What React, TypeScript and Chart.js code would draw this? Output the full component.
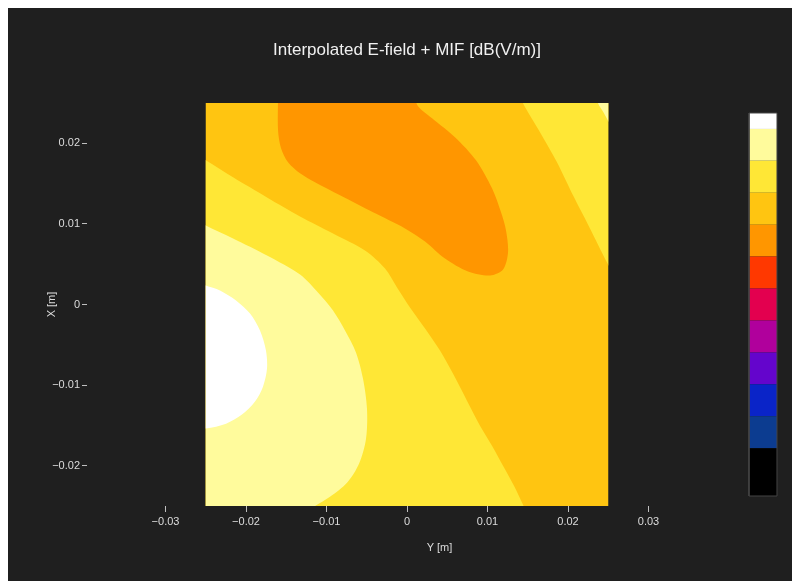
import React, { useEffect, useRef } from 'react';
import { Chart, registerables } from 'chart.js';

// ---------- data ----------
const chartTitle = 'Interpolated E-field + MIF [dB(V/m)]';
const xAxisTitle = 'Y [m]';
const yAxisTitle = 'X [m]';
const xTicks = [-0.03, -0.02, -0.01, 0, 0.01, 0.02, 0.03];
const yTicks = [-0.02, -0.01, 0, 0.01, 0.02];
const domainX = [-0.025, 0.025];
const domainY = [-0.025, 0.025];

// colour bands of the colour bar, bottom to top
const levelColors = [
  '#000000', '#0c3c90', '#0a24c8', '#6405cc', '#b0009c', '#e3004f',
  '#ff3800', '#ff9600', '#ffc511', '#ffe736', '#fffb9c', '#ffffff',
];
const levelEdges = [0, 1.5, 2.5, 3.5, 4.5, 5.5, 6.5, 7.5, 8.5, 9.5, 10.5, 11.5, 12];

// contour zones [x, y] in metres
const goldField = [[-0.027, -0.027], [0.027, -0.027], [0.027, 0.027], [-0.027, 0.027]];
const yellowLowerLeft = [
  [-0.027, 0.019], [-0.025, 0.0179], [-0.02161, 0.01578], [-0.01739, 0.01329], [-0.01329, 0.01093],
  [-0.00919, 0.00882], [-0.00522, 0.00671], [-0.00273, 0.00447], [-0.00124, 0.00211], [0.00037, -0.00037],
  [0.00224, -0.00298], [0.0041, -0.00571], [0.00571, -0.00857], [0.00745, -0.01193], [0.00907, -0.01503],
  [0.01056, -0.01752], [0.01193, -0.02], [0.01329, -0.02248], [0.01453, -0.02509], [0.01528, -0.02658],
  [-0.027, -0.027],
];
const lightYellowLowerLeft = [
  [-0.027, 0.0109], [-0.025, 0.00981], [-0.02161, 0.0082], [-0.01739, 0.00609], [-0.01329, 0.00373],
  [-0.01106, 0.00149], [-0.00919, -0.00075], [-0.0077, -0.00323], [-0.00634, -0.00596], [-0.00547, -0.00919],
  [-0.00497, -0.01292], [-0.00509, -0.01665], [-0.00596, -0.01975], [-0.00745, -0.02211], [-0.00957, -0.02385],
  [-0.01155, -0.02509], [-0.01267, -0.02609], [-0.027, -0.027],
];
const whiteCore = [
  [-0.027, 0.0031], [-0.025, 0.00236], [-0.02323, 0.00174], [-0.02124, 0.0005], [-0.0195, -0.00112],
  [-0.01826, -0.00323], [-0.01752, -0.00571], [-0.01739, -0.00795], [-0.01789, -0.01019], [-0.01888, -0.01205],
  [-0.0205, -0.01366], [-0.02248, -0.01478], [-0.025, -0.0154], [-0.027, -0.0156],
];
const orangeCore = [
  [-0.01602, 0.02596], [-0.01602, 0.02161], [-0.01565, 0.01938], [-0.01478, 0.01764], [-0.01329, 0.01627],
  [-0.01143, 0.01516], [-0.00832, 0.01354], [-0.00422, 0.01143], [-0.00025, 0.00944], [0.00224, 0.00783],
  [0.00472, 0.00571], [0.00758, 0.0041], [0.01031, 0.0036], [0.01193, 0.00435], [0.01255, 0.00646],
  [0.0123, 0.00919], [0.01168, 0.01143], [0.01056, 0.01441], [0.00857, 0.01789], [0.00596, 0.02075],
  [0.00311, 0.02311], [0.00137, 0.0246], [0.00087, 0.02596],
];
const yellowUpperRight = [
  [0.0139, 0.027], [0.01416, 0.02596], [0.01441, 0.02497], [0.01652, 0.02137], [0.01863, 0.01764],
  [0.02062, 0.01354], [0.02273, 0.00944], [0.02484, 0.00522], [0.02584, 0.00348], [0.027, 0.0015],
  [0.027, 0.027],
];
const lightYellowUpperRight = [
  [0.0232, 0.027], [0.02373, 0.02497], [0.02447, 0.02373], [0.02509, 0.02261], [0.02584, 0.02161],
  [0.027, 0.02], [0.027, 0.027],
];

const zones: { pts: number[][]; level: number; smooth: boolean }[] = [
  { pts: goldField, level: 8, smooth: false },
  { pts: yellowLowerLeft, level: 9, smooth: true },
  { pts: lightYellowLowerLeft, level: 10, smooth: true },
  { pts: whiteCore, level: 11, smooth: true },
  { pts: orangeCore, level: 7, smooth: true },
  { pts: yellowUpperRight, level: 9, smooth: true },
  { pts: lightYellowUpperRight, level: 10, smooth: true },
];

// ---------- plugins ----------
const domainClip = {
  id: 'domainClip',
  beforeDatasetDraw(chart: any, args: any) {
    const ds = chart.data.datasets[args.index];
    if (!ds.domainClip) return;
    const xs = chart.scales.x;
    const ys = chart.scales.y;
    const l = xs.getPixelForValue(domainX[0]);
    const r = xs.getPixelForValue(domainX[1]);
    const t = ys.getPixelForValue(domainY[1]);
    const b = ys.getPixelForValue(domainY[0]);
    const ctx = chart.ctx;
    ctx.save();
    ctx.beginPath();
    ctx.rect(l, t, r - l, b - t);
    ctx.clip();
  },
  afterDatasetDraw(chart: any, args: any) {
    const ds = chart.data.datasets[args.index];
    if (ds.domainClip) chart.ctx.restore();
  },
};

Chart.register(domainClip);
Chart.register(...registerables);

const fmt = (v: number) => {
  if (Math.abs(v) < 1e-9) return '0';
  const s = Math.abs(v).toFixed(2);
  return v < 0 ? '\u2212' + s : s;
};

const textColor = '#dcdcdc';
const fontFamily = '"Liberation Sans", Arial, sans-serif';

export default function App() {
  const ref = useRef<HTMLCanvasElement>(null);

  useEffect(() => {
    if (!ref.current) return;
    Chart.defaults.font.family = fontFamily;

    const zoneSets = zones.map((z, i) => ({
      type: 'scatter' as const,
      data: z.pts.map(([x, y]) => ({ x, y })),
      showLine: true,
      fill: 'shape' as any,
      backgroundColor: levelColors[z.level],
      borderColor: 'rgba(0,0,0,0)',
      borderWidth: 0,
      pointRadius: 0,
      pointHoverRadius: 0,
      tension: z.smooth ? 0.3 : 0,
      order: 100 - i,
      xAxisID: 'x',
      yAxisID: 'y',
      domainClip: true,
    }));

    const barSets = levelColors.map((c, i) => {
      const lo = levelEdges[i];
      const hi = levelEdges[i + 1];
      return {
        type: 'scatter' as const,
        data: [{ x: 0, y: lo }, { x: 1, y: lo }, { x: 1, y: hi }, { x: 0, y: hi }],
        showLine: true,
        fill: 'shape' as any,
        backgroundColor: c,
        borderColor: 'rgba(0,0,0,0)',
        borderWidth: 0,
        pointRadius: 0,
        pointHoverRadius: 0,
        tension: 0,
        order: 50,
        xAxisID: 'cbx',
        yAxisID: 'cby',
      };
    });

    const outline = {
      type: 'scatter' as const,
      data: [
        { x: 0, y: levelEdges[0] }, { x: 1, y: levelEdges[0] },
        { x: 1, y: levelEdges[levelEdges.length - 1] }, { x: 0, y: levelEdges[levelEdges.length - 1] },
        { x: 0, y: levelEdges[0] },
      ],
      showLine: true,
      fill: false,
      borderColor: '#444444',
      borderWidth: 1,
      pointRadius: 0,
      pointHoverRadius: 0,
      tension: 0,
      order: 10,
      xAxisID: 'cbx',
      yAxisID: 'cby',
    };

    const chart = new Chart(ref.current, {
      type: 'scatter',
      data: { datasets: [...zoneSets, ...barSets, outline] as any },
      options: {
        responsive: false,
        animation: false,
        events: [],
        layout: { padding: { left: 14, right: 0, top: 0, bottom: 0 } },
        plugins: {
          legend: { display: false },
          tooltip: { enabled: false },
          title: {
            display: true,
            text: chartTitle,
            color: '#f0f0f0',
            font: { size: 17, weight: 'normal', family: fontFamily },
            padding: { top: 31.8, bottom: 42.8 },
          },
        },
        scales: {
          x: {
            type: 'linear',
            position: 'bottom',
            min: -0.039752,
            max: 0.047826,
            afterBuildTicks: (s: any) => { s.ticks = xTicks.map((v) => ({ value: v })); },
            afterFit: (s: any) => { s.height = 75; },
            ticks: {
              callback: (v: any) => fmt(Number(v)),
              color: textColor,
              font: { size: 11, family: fontFamily },
              padding: 3,
              maxRotation: 0,
              autoSkip: false,
            },
            grid: { display: true, drawOnChartArea: false, drawTicks: true, tickLength: 6, color: 'rgba(220,220,220,0.85)' },
            border: { display: false },
            title: {
              display: true,
              text: xAxisTitle,
              color: textColor,
              font: { size: 11, family: fontFamily },
              padding: { top: 0, bottom: 26.4 },
            },
          },
          y: {
            type: 'linear',
            position: 'left',
            min: domainY[0],
            max: domainY[1],
            afterBuildTicks: (s: any) => { s.ticks = yTicks.map((v) => ({ value: v })); },
            afterFit: (s: any) => { s.width = 65; },
            ticks: {
              callback: (v: any) => fmt(Number(v)),
              color: textColor,
              font: { size: 11, family: fontFamily },
              padding: 2,
              autoSkip: false,
            },
            grid: { display: true, drawOnChartArea: false, drawTicks: true, tickLength: 5, color: 'rgba(220,220,220,0.85)' },
            border: { display: false },
            title: {
              display: true,
              text: yAxisTitle,
              color: textColor,
              font: { size: 11, family: fontFamily },
              padding: { top: 23.4, bottom: 0 },
            },
          },
          cbx: {
            type: 'linear',
            axis: 'x',
            position: 'top',
            display: false,
            min: -23.643,
            max: 1.536,
          },
          cby: {
            type: 'linear',
            axis: 'y',
            position: 'right',
            display: false,
            min: -0.3133,
            max: 12.3133,
          },
        } as any,
      },
    });
    return () => chart.destroy();
  }, []);

  return (
    <div
      style={{
        position: 'absolute',
        left: 8,
        top: 8,
        width: 784,
        height: 573,
        background: '#1f1f1f',
      }}
    >
      <canvas ref={ref} width={784} height={573} style={{ display: 'block' }} />
    </div>
  );
}
